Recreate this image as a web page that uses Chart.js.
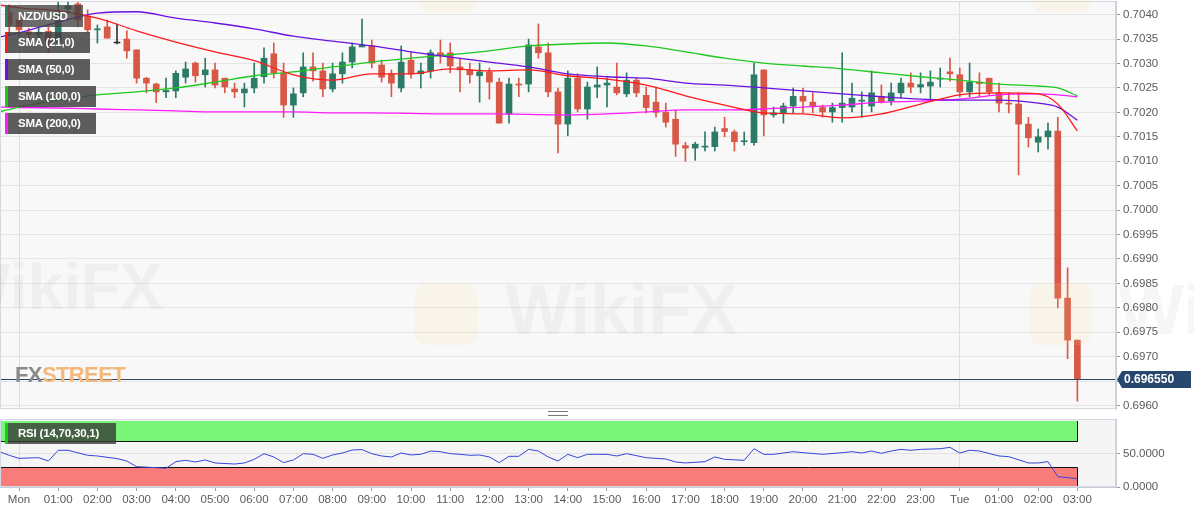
<!DOCTYPE html>
<html>
<head>
<meta charset="utf-8">
<script src="https://cdn.jsdelivr.net/npm/chart.js@4.4.0/dist/chart.umd.min.js"></script>
<style>
html, body { margin: 0; padding: 0; background: #fff; }
body { width: 1194px; height: 513px; position: relative; overflow: hidden; font-family: "Liberation Sans", Arial, sans-serif; }
#mainWrap { position: absolute; left: 0; top: 0; width: 1194px; height: 411px; }
#rsiWrap { position: absolute; left: 0; top: 412px; width: 1194px; height: 101px; }
.tag { position: absolute; left: 5px; box-sizing: border-box; background: rgba(66,66,66,0.85); color: #fff;
  font-size: 11.5px; font-weight: bold; letter-spacing: -0.2px; padding-left: 10px; border-left: 3px solid; }
.wm { position: absolute; font-weight: bold; color: rgba(150,150,150,0.09); white-space: nowrap; pointer-events: none; }
.logo { position: absolute; border-radius: 12px; background: rgba(245,222,150,0.14); pointer-events: none; }
#handle { position: absolute; left: 548px; top: 411px; width: 20px; height: 3px; border-top: 1px solid #777; border-bottom: 1px solid #777; }
#fxs { position: absolute; left: 15px; top: 362px; font-size: 22px; font-weight: bold; letter-spacing: -0.6px; }
</style>
</head>
<body>
<div id="mainWrap"><canvas id="mainChart"></canvas></div>
<div id="rsiWrap"><canvas id="rsiChart"></canvas></div>

<div class="logo" style="left:418px;top:-48px;width:60px;height:60px;"></div>
<div class="logo" style="left:1032px;top:-48px;width:60px;height:60px;"></div>
<div class="logo" style="left:415px;top:283px;width:62px;height:62px;"></div>
<div class="logo" style="left:1030px;top:283px;width:62px;height:62px;"></div>
<div class="wm" style="left:-50px;top:250px;font-size:64px;">WikiFX</div>
<div class="wm" style="left:505px;top:270px;font-size:70px;">WikiFX</div>
<div class="wm" style="left:1118px;top:270px;font-size:70px;">WikiFX</div>

<div id="fxs"><span style="color:#8a8a8a">FX</span><span style="color:#f2b87c">STREET</span></div>

<div class="tag" style="top:5px;width:78px;height:22px;line-height:22px;border-color:#2b7b66;background:rgba(66,66,66,0.78);">NZD/USD</div>
<div class="tag" style="top:32px;width:85px;height:21px;line-height:21px;border-color:#ff1a1a;">SMA (21,0)</div>
<div class="tag" style="top:59px;width:85px;height:21px;line-height:21px;border-color:#6a10e0;">SMA (50,0)</div>
<div class="tag" style="top:86px;width:91px;height:21px;line-height:21px;border-color:#1ec81e;">SMA (100,0)</div>
<div class="tag" style="top:113px;width:91px;height:21px;line-height:21px;border-color:#ff1aff;">SMA (200,0)</div>
<div class="tag" style="top:423px;width:111px;height:21px;line-height:21px;border-color:#10d010;background:rgba(55,60,55,0.8);">RSI (14,70,30,1)</div>
<div id="handle"></div>

<script>
// 15-minute candles, first one a quarter hour before Monday 00:00 (hours from Mon 00:00)
const FIRST_T = -0.25;
const STEP = 0.25;

const opens = [
  0.70404, 0.70389, 0.70365, 0.70360, 0.70366, 0.70344, 0.70412, 0.70422, 0.70397, 0.70369,
  0.70375, 0.70342, 0.70350, 0.70328, 0.70270, 0.70258, 0.70242, 0.70244, 0.70272, 0.70301,
  0.70277, 0.70287, 0.70270, 0.70248, 0.70240, 0.70250, 0.70273, 0.70320, 0.70281, 0.70215,
  0.70240, 0.70293, 0.70285, 0.70248, 0.70279, 0.70303, 0.70334, 0.70336, 0.70297, 0.70279,
  0.70250, 0.70307, 0.70279, 0.70285, 0.70322, 0.70322, 0.70293, 0.70287, 0.70275, 0.70283,
  0.70262, 0.70197, 0.70258, 0.70258, 0.70334, 0.70322, 0.70242, 0.70176, 0.70270, 0.70207,
  0.70252, 0.70256, 0.70252, 0.70238, 0.70266, 0.70235, 0.70221, 0.70200, 0.70186, 0.70132,
  0.70127, 0.70129, 0.70130, 0.70167, 0.70160, 0.70140, 0.70138, 0.70287, 0.70195, 0.70199,
  0.70213, 0.70233, 0.70221, 0.70210, 0.70201, 0.70210, 0.70211, 0.70223, 0.70213, 0.70233,
  0.70223, 0.70240, 0.70260, 0.70252, 0.70254, 0.70268, 0.70283, 0.70277, 0.70242, 0.70262,
  0.70270, 0.70240, 0.70219, 0.70217, 0.70176, 0.70139, 0.70150, 0.70162, 0.69820, 0.69734
];
const highs = [
  0.70420, 0.70400, 0.70372, 0.70372, 0.70375, 0.70430, 0.70430, 0.70430, 0.70410, 0.70379,
  0.70389, 0.70381, 0.70367, 0.70328, 0.70272, 0.70260, 0.70270, 0.70285, 0.70303, 0.70303,
  0.70311, 0.70301, 0.70270, 0.70260, 0.70260, 0.70301, 0.70332, 0.70342, 0.70301, 0.70250,
  0.70322, 0.70322, 0.70301, 0.70301, 0.70322, 0.70342, 0.70391, 0.70348, 0.70307, 0.70287,
  0.70336, 0.70324, 0.70301, 0.70328, 0.70348, 0.70342, 0.70309, 0.70301, 0.70301, 0.70291,
  0.70270, 0.70270, 0.70270, 0.70350, 0.70381, 0.70342, 0.70250, 0.70285, 0.70279, 0.70262,
  0.70293, 0.70270, 0.70301, 0.70281, 0.70270, 0.70252, 0.70252, 0.70219, 0.70205, 0.70139,
  0.70139, 0.70160, 0.70170, 0.70190, 0.70164, 0.70160, 0.70301, 0.70287, 0.70211, 0.70219,
  0.70250, 0.70250, 0.70240, 0.70215, 0.70219, 0.70322, 0.70260, 0.70242, 0.70285, 0.70256,
  0.70260, 0.70270, 0.70281, 0.70281, 0.70285, 0.70291, 0.70311, 0.70291, 0.70301, 0.70281,
  0.70270, 0.70260, 0.70240, 0.70240, 0.70190, 0.70166, 0.70178, 0.70190, 0.69882, 0.69734
];
const lows = [
  0.70360, 0.70355, 0.70352, 0.70345, 0.70322, 0.70340, 0.70405, 0.70375, 0.70363, 0.70342,
  0.70352, 0.70340, 0.70311, 0.70260, 0.70240, 0.70220, 0.70230, 0.70230, 0.70260, 0.70262,
  0.70252, 0.70250, 0.70240, 0.70230, 0.70211, 0.70240, 0.70260, 0.70270, 0.70190, 0.70190,
  0.70232, 0.70264, 0.70232, 0.70242, 0.70260, 0.70291, 0.70334, 0.70291, 0.70262, 0.70232,
  0.70242, 0.70270, 0.70250, 0.70270, 0.70301, 0.70281, 0.70242, 0.70260, 0.70221, 0.70227,
  0.70178, 0.70178, 0.70232, 0.70242, 0.70311, 0.70232, 0.70117, 0.70152, 0.70201, 0.70186,
  0.70230, 0.70211, 0.70236, 0.70232, 0.70232, 0.70199, 0.70190, 0.70170, 0.70110, 0.70100,
  0.70102, 0.70121, 0.70121, 0.70150, 0.70121, 0.70133, 0.70133, 0.70152, 0.70190, 0.70178,
  0.70199, 0.70199, 0.70199, 0.70190, 0.70180, 0.70180, 0.70201, 0.70190, 0.70201, 0.70219,
  0.70215, 0.70230, 0.70240, 0.70240, 0.70227, 0.70252, 0.70264, 0.70232, 0.70232, 0.70232,
  0.70236, 0.70201, 0.70199, 0.70072, 0.70129, 0.70119, 0.70125, 0.69800, 0.69696, 0.69609
];
const closes = [
  0.70379, 0.70369, 0.70360, 0.70364, 0.70344, 0.70406, 0.70418, 0.70389, 0.70369, 0.70371,
  0.70352, 0.70342, 0.70326, 0.70270, 0.70260, 0.70242, 0.70245, 0.70280, 0.70289, 0.70275,
  0.70287, 0.70256, 0.70252, 0.70242, 0.70248, 0.70270, 0.70311, 0.70281, 0.70215, 0.70238,
  0.70293, 0.70285, 0.70248, 0.70279, 0.70303, 0.70334, 0.70338, 0.70301, 0.70272, 0.70260,
  0.70303, 0.70279, 0.70285, 0.70322, 0.70318, 0.70295, 0.70287, 0.70277, 0.70283, 0.70262,
  0.70178, 0.70258, 0.70256, 0.70338, 0.70322, 0.70242, 0.70176, 0.70270, 0.70207, 0.70252,
  0.70256, 0.70260, 0.70240, 0.70266, 0.70240, 0.70210, 0.70200, 0.70180, 0.70135, 0.70127,
  0.70135, 0.70131, 0.70160, 0.70161, 0.70140, 0.70141, 0.70277, 0.70195, 0.70199, 0.70213,
  0.70233, 0.70223, 0.70213, 0.70201, 0.70210, 0.70219, 0.70229, 0.70225, 0.70240, 0.70221,
  0.70240, 0.70260, 0.70252, 0.70257, 0.70262, 0.70270, 0.70279, 0.70242, 0.70262, 0.70259,
  0.70242, 0.70219, 0.70217, 0.70176, 0.70148, 0.70150, 0.70162, 0.69820, 0.69734, 0.69655
];

// moving averages at these times (hours)
const smaTimes = [-0.5, 0, 1, 2, 3, 4, 5, 6, 7, 8, 9, 10, 11, 12, 13, 14, 15, 16, 17, 18,
  19, 20, 21, 22, 23, 24, 25, 26, 26.5, 27];
const sma21 = [0.70420, 0.70414, 0.70408, 0.70393, 0.70367, 0.70344, 0.70324, 0.70306, 0.70277, 0.70266,
  0.70279, 0.70279, 0.70289, 0.70285, 0.70287, 0.70275, 0.70268, 0.70256, 0.70234, 0.70215,
  0.70199, 0.70197, 0.70189, 0.70197, 0.70217, 0.70236, 0.70240, 0.70238, 0.70217, 0.70162];
const sma50 = [0.70354, 0.70363, 0.70385, 0.70403, 0.70406, 0.70393, 0.70383, 0.70371, 0.70356, 0.70346,
  0.70336, 0.70324, 0.70313, 0.70303, 0.70293, 0.70279, 0.70273, 0.70270, 0.70260, 0.70256,
  0.70250, 0.70244, 0.70238, 0.70232, 0.70227, 0.70225, 0.70225, 0.70219, 0.70211, 0.70184];
const sma100 = [0.70201, 0.70211, 0.70225, 0.70236, 0.70242, 0.70250, 0.70262, 0.70275, 0.70283, 0.70293,
  0.70303, 0.70311, 0.70318, 0.70326, 0.70336, 0.70340, 0.70342, 0.70336, 0.70324, 0.70311,
  0.70301, 0.70295, 0.70289, 0.70281, 0.70273, 0.70266, 0.70258, 0.70254, 0.70250, 0.70234];
const sma200 = [0.70211, 0.70210, 0.70209, 0.70207, 0.70205, 0.70203, 0.70201, 0.70201, 0.70201, 0.70199,
  0.70199, 0.70198, 0.70197, 0.70197, 0.70196, 0.70195, 0.70197, 0.70201, 0.70205, 0.70205,
  0.70207, 0.70211, 0.70215, 0.70221, 0.70223, 0.70227, 0.70236, 0.70238, 0.70236, 0.70232];

const rsiTimes = [-0.5, -0.25, 0, 0.5, 0.75, 1, 1.25, 1.75, 2, 2.5, 2.75, 3, 3.5, 3.75, 4, 4.25, 4.5, 4.75,
  5, 5.5, 5.75, 6, 6.25, 6.5, 6.75, 7, 7.25, 7.5, 7.75, 8, 8.25, 8.5, 8.75, 9, 9.25, 9.5, 9.75,
  10, 10.25, 10.5, 10.75, 11, 11.25, 11.5, 11.75, 12, 12.25, 12.5, 12.75, 13, 13.25, 13.5, 13.75,
  14, 14.25, 14.5, 14.75, 15, 15.25, 15.5, 16, 16.5, 16.75, 17, 17.5, 17.75, 18, 18.5, 18.75,
  19, 19.25, 19.75, 20, 20.5, 21, 21.25, 21.5, 21.75, 22, 22.25, 22.5, 22.75, 23, 23.5, 23.75,
  24, 24.25, 24.5, 25, 25.25, 25.75, 26, 26.25, 26.5, 26.75, 27];
const rsiValues = [53.5, 48, 43.4, 44.4, 39.4, 55.6, 55.6, 48, 47, 43, 39.4, 30.8, 29.3, 28.3, 38.4, 40.4, 37.9, 40.9,
  36.4, 34.8, 36.4, 41.9, 50.5, 45.5, 36.9, 40.9, 50.5, 49.5, 43.4, 48.5, 51.5, 56, 56.6, 50.5, 47, 45.5, 51.5,
  48.5, 49.5, 54.5, 53.5, 50.5, 49.5, 48, 48.5, 45.5, 36.9, 46.5, 46.5, 57, 54.5, 45.5, 39.4,
  49.5, 44.4, 49.5, 49.5, 49.5, 47, 50.5, 44.4, 42.4, 37.9, 36.4, 38.4, 45.5, 41.9, 40.4, 58,
  49.5, 49.5, 53.5, 52, 49.5, 52, 53.5, 51.5, 54.5, 51, 54.5, 57, 55.6, 57, 58, 60,
  51.5, 55.6, 54.5, 47, 46, 36.4, 36.4, 38.4, 15.7, 14.1, 12.6];
const rsiLevels = [70, 30];

const priceTicks = [0.6960, 0.6965, 0.6970, 0.6975, 0.6980, 0.6985, 0.6990, 0.6995, 0.7000,
  0.7005, 0.7010, 0.7015, 0.7020, 0.7025, 0.7030, 0.7035, 0.7040];
const hourTicks = [0, 1, 2, 3, 4, 5, 6, 7, 8, 9, 10, 11, 12, 13, 14, 15, 16, 17, 18, 19, 20, 21, 22, 23, 24, 25, 26, 27];
const hourLabels = ["Mon", "01:00", "02:00", "03:00", "04:00", "05:00", "06:00", "07:00", "08:00", "09:00",
  "10:00", "11:00", "12:00", "13:00", "14:00", "15:00", "16:00", "17:00", "18:00", "19:00", "20:00",
  "21:00", "22:00", "23:00", "Tue", "01:00", "02:00", "03:00"];
const dayTicks = [0, 24];

const X_MIN = -0.485, X_MAX = 27.985;
const Y_MIN = 0.69593, Y_MAX = 0.70428;
const UP = '#2b7b66', DOWN = '#d75846', FLAT = '#333';
const lastClose = closes[closes.length - 1];
const lastT = FIRST_T + (closes.length - 1) * STEP;

Chart.defaults.font.family = '"Liberation Sans", Arial, sans-serif';
Chart.defaults.font.size = 11.5;
Chart.defaults.color = '#5a5a5a';

const candleTimes = closes.map((c, i) => FIRST_T + i * STEP);
const candleColors = closes.map((c, i) => c > opens[i] ? UP : (c < opens[i] ? DOWN : FLAT));
const wickData = candleTimes.map((t, i) => ({ x: t, y: [lows[i], highs[i]] }));
const bodyData = candleTimes.map((t, i) => ({ x: t, y: [opens[i], closes[i]] }));
const toXY = (ts, vs) => ts.map((t, i) => ({ x: t, y: vs[i] }));

let smaLine = (data, color) => ({
  type: 'line', data: toXY(smaTimes, data), borderColor: color, borderWidth: 1.3,
  pointRadius: 0, cubicInterpolationMode: 'monotone', order: 0
});

let fixAxis = (w, h) => s => {
  if (w !== null) s.width = w;
  if (h !== null) s.height = h;
  s.paddingTop = 0; s.paddingBottom = 0; s.paddingLeft = 0; s.paddingRight = 0;
};

const areaBg = color => ({
  id: 'areaBg',
  beforeDraw(chart) {
    const a = chart.chartArea, ctx = chart.ctx;
    ctx.save();
    ctx.fillStyle = color;
    ctx.fillRect(a.left, a.top, a.right - a.left, a.bottom - a.top);
    ctx.restore();
  },
  afterDraw(chart) {
    const a = chart.chartArea, ctx = chart.ctx;
    ctx.save();
    ctx.strokeStyle = '#d3d7e1';
    ctx.lineWidth = 1;
    ctx.strokeRect(a.left + 0.5, a.top + 0.5, a.right - a.left - 1, a.bottom - a.top - 1);
    ctx.restore();
  }
});

const lastPricePlugin = {
  id: 'lastPrice',
  afterDatasetsDraw(chart) {
    const { ctx, chartArea, scales } = chart;
    const y = Math.round(scales.y.getPixelForValue(lastClose)) + 0.5;
    ctx.save();
    ctx.strokeStyle = '#2c4466';
    ctx.lineWidth = 1;
    ctx.beginPath();
    ctx.moveTo(chartArea.left, y);
    ctx.lineTo(chartArea.right, y);
    ctx.stroke();
    const bx = chartArea.right + 6;
    ctx.fillStyle = '#27476e';
    ctx.beginPath();
    ctx.moveTo(chartArea.right + 1, y);
    ctx.lineTo(bx, y - 8.5);
    ctx.lineTo(bx + 69, y - 8.5);
    ctx.lineTo(bx + 69, y + 8.5);
    ctx.lineTo(bx, y + 8.5);
    ctx.closePath();
    ctx.fill();
    ctx.fillStyle = '#fff';
    ctx.font = 'bold 12px "Liberation Sans", Arial, sans-serif';
    ctx.textBaseline = 'middle';
    ctx.fillText(lastClose.toFixed(6), bx + 2, y + 0.5);
    ctx.restore();
  }
};

new Chart(document.getElementById('mainChart'), {
  type: 'bar',
  data: {
    datasets: [
      smaLine(sma21, '#ff1a1a'),
      smaLine(sma50, '#6a10e0'),
      smaLine(sma100, '#1ec81e'),
      smaLine(sma200, '#ff1aff'),
      { data: bodyData, backgroundColor: candleColors, barThickness: 6, minBarLength: 1, grouped: false, order: 1 },
      { data: wickData, backgroundColor: candleColors, barThickness: 1, grouped: false, order: 2 }
    ]
  },
  options: {
    responsive: true, maintainAspectRatio: false, animation: false, events: [],
    layout: { padding: { top: 1, bottom: 2, left: 0, right: 0 } },
    plugins: { legend: { display: false }, tooltip: { enabled: false } },
    scales: {
      x: {
        type: 'linear', min: X_MIN, max: X_MAX, offset: false,
        afterBuildTicks: s => { s.ticks = dayTicks.map(v => ({ value: v })); },
        afterFit: fixAxis(null, 0),
        ticks: { display: false },
        grid: { color: '#dedede', drawTicks: false, offset: false },
        border: { display: false }
      },
      y: {
        type: 'linear', position: 'right', min: Y_MIN, max: Y_MAX,
        afterBuildTicks: s => { s.ticks = priceTicks.map(v => ({ value: v })); },
        afterFit: fixAxis(78, null),
        ticks: { callback: v => v.toFixed(4), padding: 3, color: '#5a5a5a' },
        grid: { color: '#e5e5e5', tickColor: '#9a9a9a', tickLength: 4 },
        border: { color: '#c8cdd8' }
      }
    }
  },
  plugins: [areaBg('#f8f8f8'), lastPricePlugin]
});

const bandsPlugin = {
  id: 'bands',
  beforeDatasetsDraw(chart) {
    const { ctx, chartArea, scales } = chart;
    const x0 = chartArea.left + 0.5;
    const x1 = Math.round(scales.x.getPixelForValue(lastT)) + 0.5;
    const yTop = scales.y.getPixelForValue(100);
    const yHi = Math.round(scales.y.getPixelForValue(rsiLevels[0])) + 0.5;
    const yLo = Math.round(scales.y.getPixelForValue(rsiLevels[1])) + 0.5;
    const yBot = scales.y.getPixelForValue(0);
    ctx.save();
    ctx.fillStyle = '#7af57a';
    ctx.fillRect(x0, yTop, x1 - x0, yHi - yTop);
    ctx.fillStyle = '#f87c7a';
    ctx.fillRect(x0, yLo, x1 - x0, yBot - yLo);
    ctx.strokeStyle = '#111';
    ctx.lineWidth = 1;
    ctx.beginPath();
    ctx.moveTo(x0, yTop); ctx.lineTo(x0, yHi); ctx.lineTo(x1, yHi); ctx.lineTo(x1, yTop);
    ctx.moveTo(x0, yBot); ctx.lineTo(x0, yLo); ctx.lineTo(x1, yLo); ctx.lineTo(x1, yBot);
    ctx.stroke();
    ctx.restore();
  }
};

new Chart(document.getElementById('rsiChart'), {
  type: 'line',
  data: {
    datasets: [{
      data: toXY(rsiTimes, rsiValues), borderColor: '#3447d8', borderWidth: 1,
      pointRadius: 0, tension: 0
    }]
  },
  options: {
    responsive: true, maintainAspectRatio: false, animation: false, events: [],
    layout: { padding: { top: 7, bottom: 0, left: 0, right: 0 } },
    plugins: { legend: { display: false }, tooltip: { enabled: false } },
    scales: {
      x: {
        type: 'linear', min: X_MIN, max: X_MAX, offset: false,
        afterBuildTicks: s => { s.ticks = hourTicks.map(v => ({ value: v })); },
        afterFit: fixAxis(null, 26),
        ticks: { autoSkip: false, maxRotation: 0, padding: 2, color: '#5a5a5a',
          callback: (v, i) => hourLabels[i] },
        grid: {
          color: c => (c.tick && dayTicks.includes(c.tick.value)) ? '#dedede' : 'rgba(0,0,0,0)',
          tickColor: '#a0a0a0', tickLength: 4
        },
        border: { color: '#c8cdd8' }
      },
      y: {
        type: 'linear', position: 'right', min: 0, max: 103,
        afterBuildTicks: s => { s.ticks = [0, 50].map(v => ({ value: v })); },
        afterFit: fixAxis(78, null),
        ticks: { callback: v => v.toFixed(4), padding: 3, color: '#5a5a5a' },
        grid: { color: '#e2e2e2', tickColor: '#9a9a9a', tickLength: 4 },
        border: { color: '#c8cdd8' }
      }
    }
  },
  plugins: [areaBg('#f5f5f5'), bandsPlugin]
});
</script>
</body>
</html>
